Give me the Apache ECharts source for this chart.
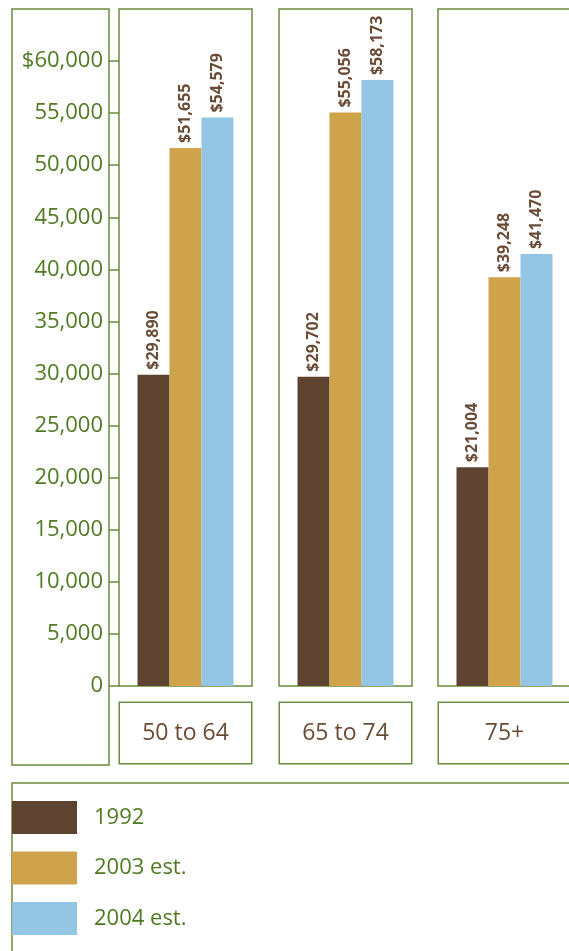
<!DOCTYPE html>
<html><head><meta charset="utf-8">
<script src="https://cdn.jsdelivr.net/npm/echarts@6/dist/echarts.min.js"></script>
<style>html,body{margin:0;padding:0;background:#fff}#c{width:569px;height:951px}</style>
</head><body><div id="c"></div>
<script>
const categories = ['50 to 64', '65 to 74', '75+'];
const seriesNames = ['1992', '2003 est.', '2004 est.'];
const values1992 = [29890, 29702, 21004];
const values2003 = [51655, 55056, 39248];
const values2004 = [54579, 58173, 41470];
const tickValues = [0, 5000, 10000, 15000, 20000, 25000, 30000, 35000, 40000, 45000, 50000, 55000, 60000];

const FONT = '"Open Sans", "Noto Sans", sans-serif';
const GREEN = '#4f7a22';
const BORDER = '#6a8c3c';
const BROWN_TXT = '#6a4b36';
const colors = ['#5e4330', '#cfa34a', '#94c5e3'];
const allSeries = [values1992, values2003, values2004];

const panelLeft = [119, 279, 438];
const panelW = 133;
const grids = panelLeft.map(l => ({
  left: l, width: panelW, top: 9, height: 677,
  outerBoundsMode: 'none', containLabel: false,
  show: true, borderColor: BORDER, borderWidth: 1.5, backgroundColor: 'transparent'
}));
const xAxes = categories.map((c, i) => ({
  type: 'category', gridIndex: i, data: [c],
  axisLine: { show: false }, axisTick: { show: false },
  axisLabel: {
    margin: 17, fontFamily: FONT, fontSize: 23, color: BROWN_TXT,
    width: 131, height: 60, lineHeight: 60, align: 'center',
    borderColor: BORDER, borderWidth: 1.5, backgroundColor: '#fff'
  }
}));
const yAxes = categories.map((c, i) => ({
  type: 'value', gridIndex: i, min: 0, max: 65000, interval: 5000,
  splitLine: { show: false }, axisLine: { show: false },
  axisTick: i === 0 ? { show: true, length: 10, customValues: tickValues, lineStyle: { color: BORDER, width: 1.5 } } : { show: false },
  axisLabel: i === 0 ? {
    show: true, customValues: tickValues, margin: 16, fontFamily: FONT, fontSize: 22, color: GREEN,
    formatter: v => (v === 60000 ? '$' : '') + v.toLocaleString('en-US')
  } : { show: false }
}));
const series = [];
categories.forEach((c, i) => {
  allSeries.forEach((vals, s) => {
    series.push({
      name: seriesNames[s], type: 'bar', xAxisIndex: i, yAxisIndex: i,
      data: [vals[i]], barWidth: 32, barGap: '0%',
      itemStyle: { color: colors[s] },
      label: {
        show: true, position: 'top', rotate: 90, align: 'left', verticalAlign: 'middle', distance: 5,
        fontFamily: FONT, fontSize: 16, fontWeight: 'bold', color: BROWN_TXT,
        formatter: p => '$' + p.value.toLocaleString('en-US')
      }
    });
  });
});

const chart = echarts.init(document.getElementById('c'), null, { renderer: 'canvas' });
chart.setOption({
  animation: false,
  grid: grids, xAxis: xAxes, yAxis: yAxes, series: series,
  legend: {
    orient: 'vertical', left: 12, top: 801, padding: 0,
    itemWidth: 65, itemHeight: 33, itemGap: 17.5,
    data: seriesNames.map((n, k) => ({ name: n, icon: 'rect', itemStyle: { color: colors[k] } })),
    textStyle: { fontFamily: FONT, fontSize: 22, color: GREEN, padding: [0, 0, 0, 12] },
    selectedMode: false
  },
  graphic: [
    { type: 'rect', shape: { x: 12, y: 9, width: 97, height: 756 }, style: { fill: 'none', stroke: BORDER, lineWidth: 1.5 }, z: -1 },
    { type: 'polyline', shape: { points: [[12, 960], [12, 783], [580, 783]] }, style: { fill: 'none', stroke: BORDER, lineWidth: 1.5 }, z: -1 }
  ]
});
</script></body></html>
